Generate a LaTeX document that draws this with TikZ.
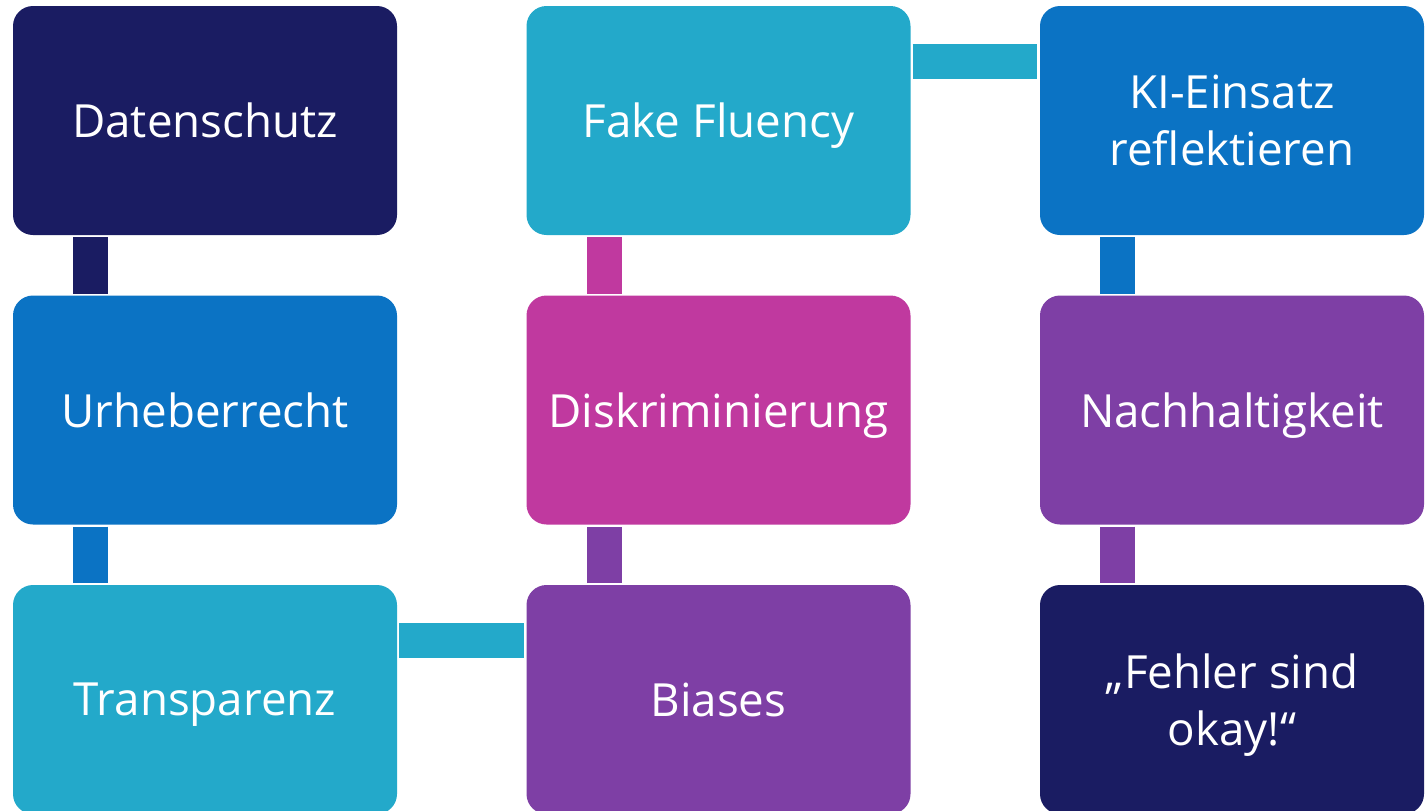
\documentclass[tikz,border=0pt]{standalone}
\usepackage{fontspec}
\setmainfont{Open Sans}
\usetikzlibrary{positioning}

\definecolor{navy}{RGB}{26,28,98}
\definecolor{azur}{RGB}{11,115,196}
\definecolor{tuerkis}{RGB}{35,169,202}
\definecolor{magenta}{RGB}{192,57,159}
\definecolor{lila}{RGB}{126,63,165}

\tikzset{
    kachel/.style={fill=#1, rounded corners=0.2cm, minimum width=3.84cm, minimum height=2.29cm,
        text=white, align=center, inner sep=0pt, outer sep=0pt, text depth=0pt,
        font=\fontsize{13}{16.2}\selectfont},
    vlink/.style={draw=#1, line width=0.35cm, shorten <=0.02cm, shorten >=0.02cm},
    hlink/.style={draw=#1, line width=0.35cm, shorten <=0.02cm, shorten >=0.03cm}
}

\begin{document}
\begin{tikzpicture}
    \useasboundingbox (0,0) rectangle (14.26,-8.10);

    \node[kachel=navy, anchor=north west] (dat) at (0.13,-0.06) {Datenschutz};
    \node[kachel=azur, below=0.605cm of dat] (urh) {Urheberrecht};
    \node[kachel=tuerkis, below=0.605cm of urh] (tra) {Transparenz};
    \node[kachel=lila, right=1.295cm of tra] (bia) {Biases};
    \node[kachel=magenta, above=0.605cm of bia] (dis) {Diskriminierung};
    \node[kachel=tuerkis, above=0.605cm of dis] (fak) {Fake Fluency};
    \node[kachel=azur, right=1.295cm of fak] (ki) {KI-Einsatz\\reflektieren};
    \node[kachel=lila, below=0.605cm of ki] (nach) {Nachhaltigkeit};
    \node[kachel=navy, below=0.605cm of nach] (feh) {„Fehler sind\\okay!“};

    % Verbindungen
    \draw[vlink=navy] ([xshift=0.775cm]dat.south west) -- ([xshift=0.775cm]urh.north west);
    \draw[vlink=azur] ([xshift=0.775cm]urh.south west) -- ([xshift=0.775cm]tra.north west);
    \draw[hlink=tuerkis] ([yshift=-0.555cm]tra.north east) -- ([yshift=-0.555cm]bia.north west);
    \draw[vlink=lila] ([xshift=0.775cm]bia.north west) -- ([xshift=0.775cm]dis.south west);
    \draw[vlink=magenta] ([xshift=0.775cm]dis.north west) -- ([xshift=0.775cm]fak.south west);
    \draw[hlink=tuerkis] ([yshift=-0.555cm]fak.north east) -- ([yshift=-0.555cm]ki.north west);
    \draw[vlink=azur] ([xshift=0.775cm]ki.south west) -- ([xshift=0.775cm]nach.north west);
    \draw[vlink=lila] ([xshift=0.775cm]nach.south west) -- ([xshift=0.775cm]feh.north west);
\end{tikzpicture}
\end{document}
